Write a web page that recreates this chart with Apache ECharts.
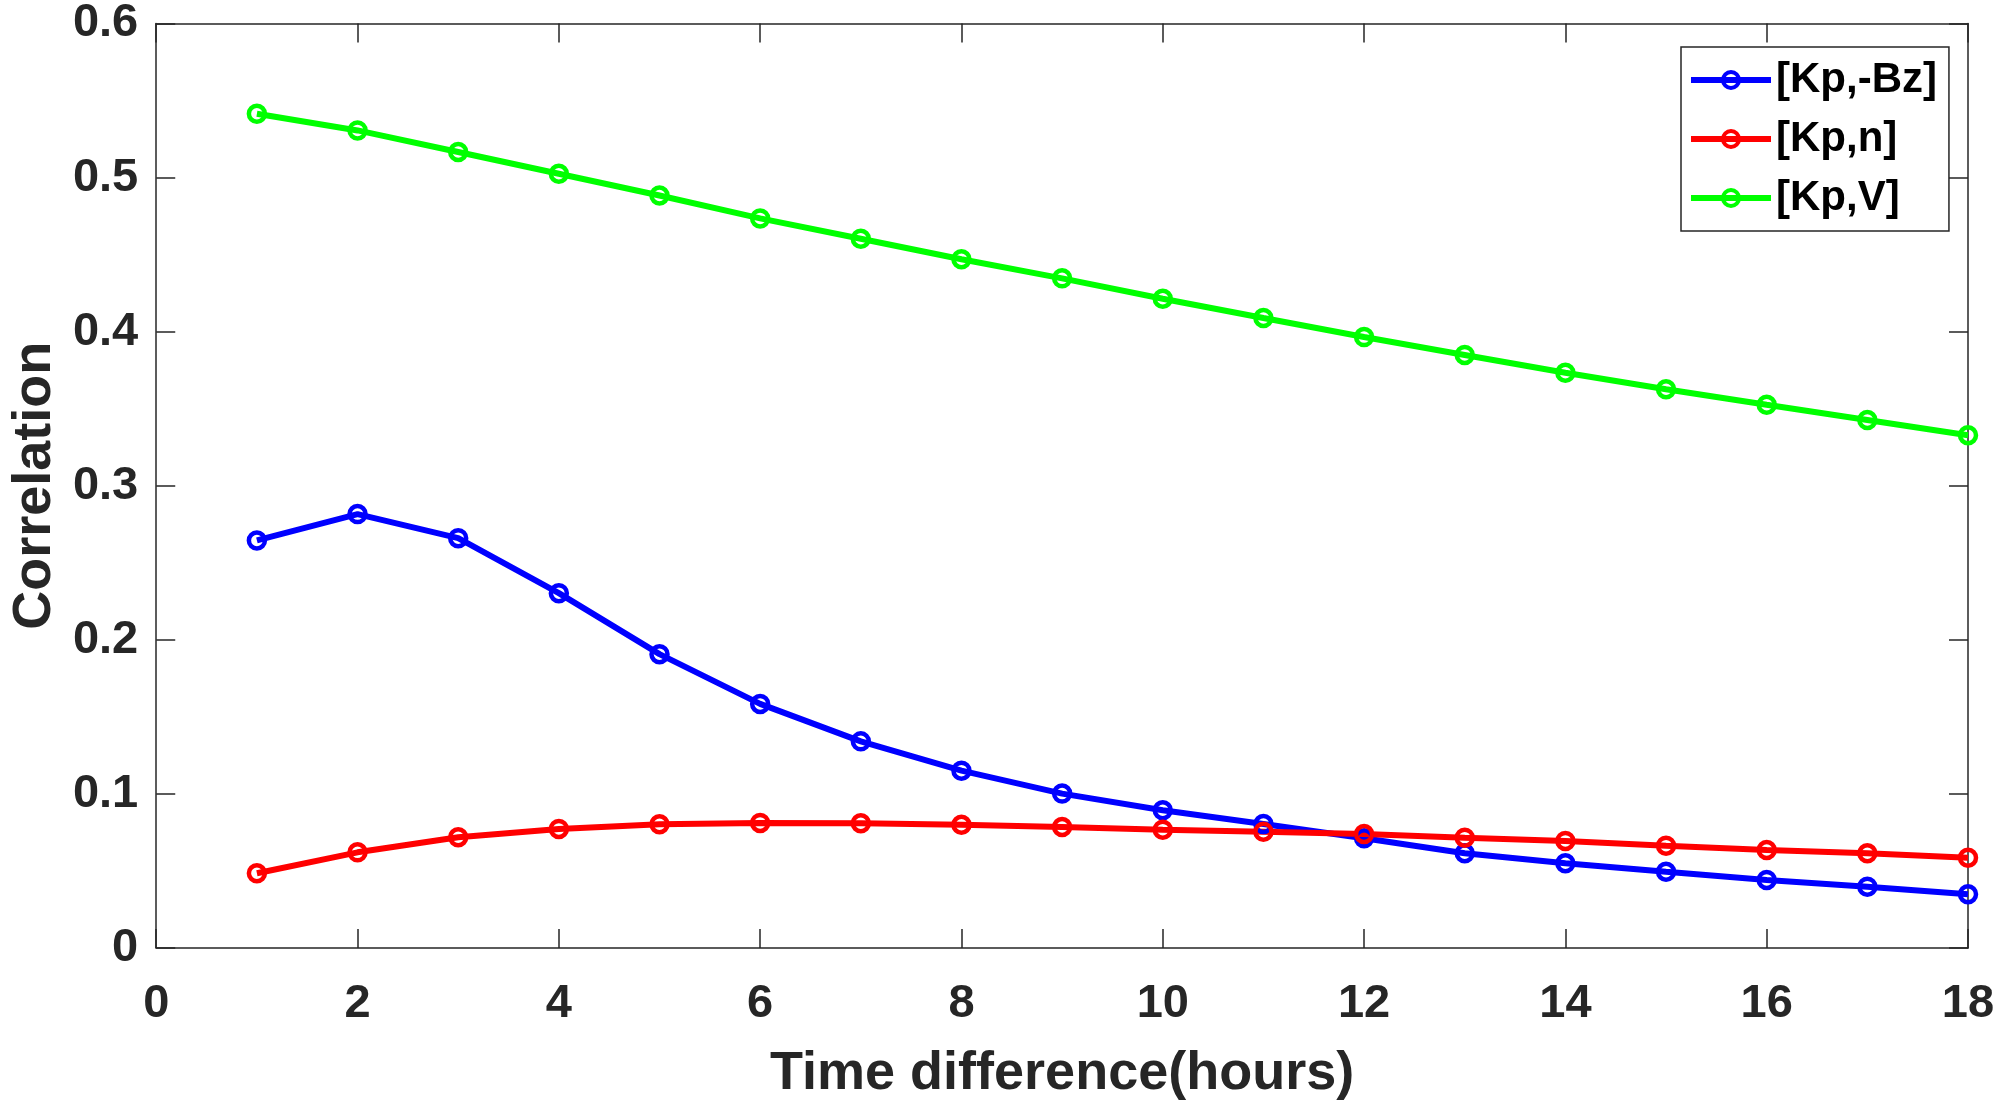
<!DOCTYPE html>
<html>
<head>
<meta charset="utf-8">
<script src="https://cdn.jsdelivr.net/npm/echarts@6/dist/echarts.min.js"></script>
<style>html,body{margin:0;padding:0;background:#fff;}#c{width:2000px;height:1108px;}</style>
</head>
<body>
<div id="c"></div>
<script>
const hours = [1,2,3,4,5,6,7,8,9,10,11,12,13,14,15,16,17,18];
const kpBz = [0.2645,0.2816,0.2660,0.2303,0.1907,0.1584,0.1341,0.1151,0.1002,0.0894,0.0805,0.0712,0.0615,0.0550,0.0495,0.0442,0.0398,0.0349];
const kpN  = [0.0485,0.0621,0.0719,0.0773,0.0803,0.0812,0.0810,0.0800,0.0785,0.0768,0.0755,0.0740,0.0716,0.0695,0.0664,0.0636,0.0615,0.0586];
const kpV  = [0.5414,0.5306,0.5166,0.5025,0.4884,0.4735,0.4603,0.4470,0.4346,0.4214,0.4089,0.3965,0.3849,0.3733,0.3626,0.3526,0.3427,0.3328];
const seriesNames = ['[Kp,-Bz]','[Kp,n]','[Kp,V]'];
const colors = ['#0000ff','#ff0000','#00ff00'];
const xTicks = [0,2,4,6,8,10,12,14,16,18];
const yTicks = [0,0.1,0.2,0.3,0.4,0.5,0.6];

const FONT = '"Liberation Sans", Arial, sans-serif';
const axisColor = '#262626';
const TICK = 19;
const chart = echarts.init(document.getElementById('c'));
function mk(name, vals, color){
  return {
    name, type:'line', data: hours.map((h,i)=>[h, vals[i]]),
    symbol:'circle', symbolSize:16, showSymbol:true,
    lineStyle:{color, width:6},
    itemStyle:{color:'rgba(255,255,255,0)', borderColor:color, borderWidth:4.5},
    emphasis:{disabled:true}, z:3
  };
}
function xAx(pos, extra){
  return Object.assign({
    type:'value', position:pos, min:xTicks[0], max:xTicks[xTicks.length-1], interval:2,
    splitLine:{show:false},
    axisLine:{show:true, onZero:false, lineStyle:{color:axisColor, width:1.5}},
    axisTick:{show:true, inside:true, length:TICK, lineStyle:{color:axisColor, width:1.5}},
    axisLabel:{show:false}
  }, extra || {});
}
function yAx(pos, extra){
  return Object.assign({
    type:'value', position:pos, min:yTicks[0], max:yTicks[yTicks.length-1], interval:0.1,
    splitLine:{show:false},
    axisLine:{show:true, onZero:false, lineStyle:{color:axisColor, width:1.5}},
    axisTick:{show:true, inside:true, length:TICK, lineStyle:{color:axisColor, width:1.5}},
    axisLabel:{show:false}
  }, extra || {});
}
chart.setOption({
  backgroundColor:'#ffffff',
  animation:false,
  grid:{left:153, right:32, top:23, bottom:160},
  legend:{
    orient:'vertical', left:1681, top:47,
    padding:[10,12,10,7], itemGap:13, itemWidth:80, itemHeight:20,
    borderColor:axisColor, borderWidth:1.5, backgroundColor:'#fff',
    lineStyle:{width:6},
    itemStyle:{borderWidth:4},
    textStyle:{fontFamily:FONT, fontWeight:'bold', fontSize:42, color:'#000', lineHeight:46},
    data:seriesNames
  },
  xAxis:[
    xAx('bottom', {
      name:'Time difference(hours)', nameLocation:'middle', nameGap:99,
      nameTextStyle:{fontFamily:FONT, fontWeight:'bold', fontSize:54, color:'#262626'},
      axisLabel:{show:true, margin:33, fontFamily:FONT, fontWeight:'bold', fontSize:47, color:'#262626'}
    }),
    xAx('top')
  ],
  yAxis:[
    yAx('left', {
      name:'Correlation', nameLocation:'middle', nameGap:90,
      nameTextStyle:{fontFamily:FONT, fontWeight:'bold', fontSize:54, color:'#262626'},
      axisLabel:{show:true, margin:18, fontFamily:FONT, fontWeight:'bold', fontSize:47, color:'#262626',
        formatter:v=>v===0?'0':v.toFixed(1)}
    }),
    yAx('right')
  ],
  series:[mk(seriesNames[0], kpBz, colors[0]), mk(seriesNames[1], kpN, colors[1]), mk(seriesNames[2], kpV, colors[2])]
});
</script>
</body>
</html>
